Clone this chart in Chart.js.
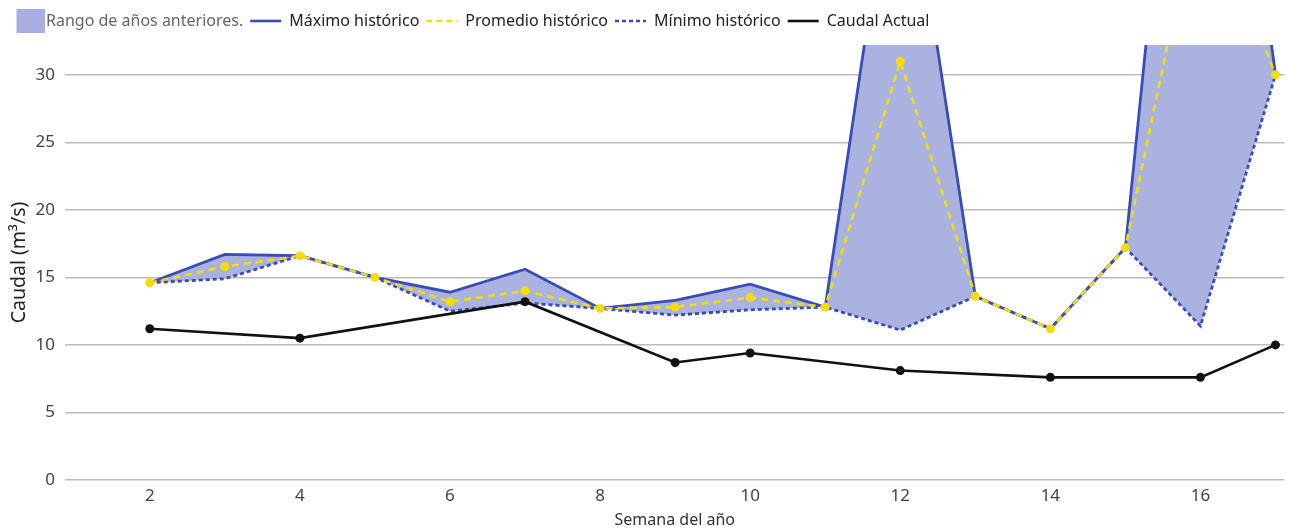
<!DOCTYPE html>
<html>
<head>
<meta charset="utf-8">
<script src="https://cdn.jsdelivr.net/npm/chart.js@4.4.1/dist/chart.umd.min.js"></script>
<style>
    html, body { margin: 0; padding: 0; background: #fff; }
</style>
</head>
<body>
<canvas id="caudalChart" width="1289" height="531"></canvas>
<script>
const weeks = [2, 3, 4, 5, 6, 7, 8, 9, 10, 11, 12, 13, 14, 15, 16, 17];
const maxHist = [14.6, 16.7, 16.6, 15.0, 13.9, 15.6, 12.7, 13.3, 14.5, 12.8, 50, 13.6, 11.2, 17.2, 72, 30.0];
const avgHist = [14.6, 15.8, 16.6, 15.0, 13.2, 14.0, 12.7, 12.8, 13.5, 12.8, 31.0, 13.6, 11.2, 17.2, 44, 30.0];
const minHist = [14.6, 14.9, 16.6, 15.0, 12.5, 13.1, 12.7, 12.2, 12.6, 12.8, 11.1, 13.6, 11.2, 17.2, 11.4, 30.0];
const caudalActual = [11.2, null, 10.5, null, null, 13.2, null, 8.7, 9.4, null, 8.1, null, 7.6, null, 7.6, 10.0];
const xTicks = [2, 4, 6, 8, 10, 12, 14, 16];
const yTicks = [0, 5, 10, 15, 20, 25, 30];

const toPoints = (values) => weeks.map((w, i) => ({x: w, y: values[i]}));

// square swatch for the band entry of the legend (drawn off-centre so it sits left of the text)
const swatch = document.createElement("canvas");
swatch.width = 44;
swatch.height = 24;
const sctx = swatch.getContext("2d");
sctx.fillStyle = "#a9aee2";
sctx.fillRect(16, 0, 28, 24);

// make room under the legend
const legendSpacer = {
    id: "legendSpacer",
    beforeInit(chart) {
        const fit = chart.legend.fit;
        chart.legend.fit = function () {
            fit.bind(chart.legend)();
            this.height += 6;
        };
    }
};

const fontFamily = "'Noto Sans', 'Open Sans', sans-serif";
const chartElement = document.getElementById("caudalChart");

const datasets = [
    {
        label: "Rango de años anteriores.",
        data: toPoints(maxHist),
        borderWidth: 0,
        borderColor: "rgba(0,0,0,0)",
        backgroundColor: "#aab2e0",
        pointRadius: 0,
        fill: {target: 3},
        order: 5
    },
    {
        label: "Máximo histórico",
        data: toPoints(maxHist),
        borderColor: "#3a4cb8",
        borderWidth: 2.8,
        pointRadius: 0,
        fill: false,
        order: 3
    },
    {
        label: "Promedio histórico",
        data: toPoints(avgHist),
        borderColor: "#f3dc10",
        borderWidth: 2.6,
        borderDash: [7, 5],
        pointRadius: 4.5,
        pointBackgroundColor: "#f3dc10",
        pointBorderWidth: 0,
        fill: false,
        order: 0
    },
    {
        label: "Mínimo histórico",
        data: toPoints(minHist),
        borderColor: "#3a4cb8",
        borderWidth: 2.8,
        borderDash: [4, 3],
        pointRadius: 0,
        fill: false,
        order: 2
    },
    {
        label: "Caudal Actual",
        data: toPoints(caudalActual),
        borderColor: "#111111",
        borderWidth: 2.6,
        pointRadius: 4.5,
        pointBackgroundColor: "#111111",
        pointBorderWidth: 0,
        spanGaps: true,
        fill: false,
        order: 1
    }
];

const caudalChart = new Chart(chartElement, {
    type: "line",
    data: {datasets: datasets},
    plugins: [legendSpacer],
    options: {
        responsive: false,
        animation: false,
        clip: 0,
        layout: {padding: {left: 0, right: 4, top: 6, bottom: 0}},
        elements: {line: {tension: 0}},
        plugins: {
            filler: {drawTime: "beforeDatasetsDraw"},
            tooltip: {enabled: false},
            legend: {
                position: "top",
                align: "start",
                labels: {
                    usePointStyle: true,
                    pointStyleWidth: 31,
                    padding: 7,
                    font: {family: fontFamily, size: 16},
                    color: "#222",
                    generateLabels: (chart) => {
                        const items = Chart.defaults.plugins.legend.labels.generateLabels(chart);
                        items.forEach(item => {
                            const ds = chart.data.datasets[item.datasetIndex];
                            if (item.datasetIndex === 0) {
                                item.pointStyle = swatch;
                                item.fontColor = "#666";
                            } else {
                                item.pointStyle = "line";
                                item.strokeStyle = ds.borderColor;
                                item.lineWidth = 2.6;
                                item.lineDash = ds.label === "Promedio histórico" ? [6, 4] : (ds.borderDash || []);
                                item.fontColor = "#222";
                            }
                        });
                        return items.sort((a, b) => a.datasetIndex - b.datasetIndex);
                    }
                }
            }
        },
        scales: {
            x: {
                type: "linear",
                min: 0.87,
                max: 17.12,
                afterBuildTicks: (scale) => { scale.ticks = xTicks.map(v => ({value: v})); },
                afterFit: (scale) => { scale.height = 51; },
                grid: {display: false, drawTicks: false},
                border: {display: false},
                ticks: {color: "#444", font: {family: fontFamily, size: 17}, padding: 6},
                title: {
                    display: true,
                    text: "Semana del año",
                    color: "#333",
                    font: {family: fontFamily, size: 16},
                    padding: {top: 0, bottom: 1}
                }
            },
            y: {
                min: 0,
                max: 32.2,
                afterBuildTicks: (scale) => { scale.ticks = yTicks.map(v => ({value: v})); },
                afterFit: (scale) => { scale.width = 65; },
                grid: {color: "#bcbcbc", lineWidth: 1.5, drawTicks: false},
                border: {display: false},
                ticks: {color: "#444", font: {family: fontFamily, size: 17}, padding: 10},
                title: {
                    display: true,
                    text: "Caudal (m³/s)",
                    color: "#222",
                    font: {family: fontFamily, size: 19.5},
                    padding: {top: 8, bottom: 0}
                }
            }
        }
    }
});
</script>
</body>
</html>
